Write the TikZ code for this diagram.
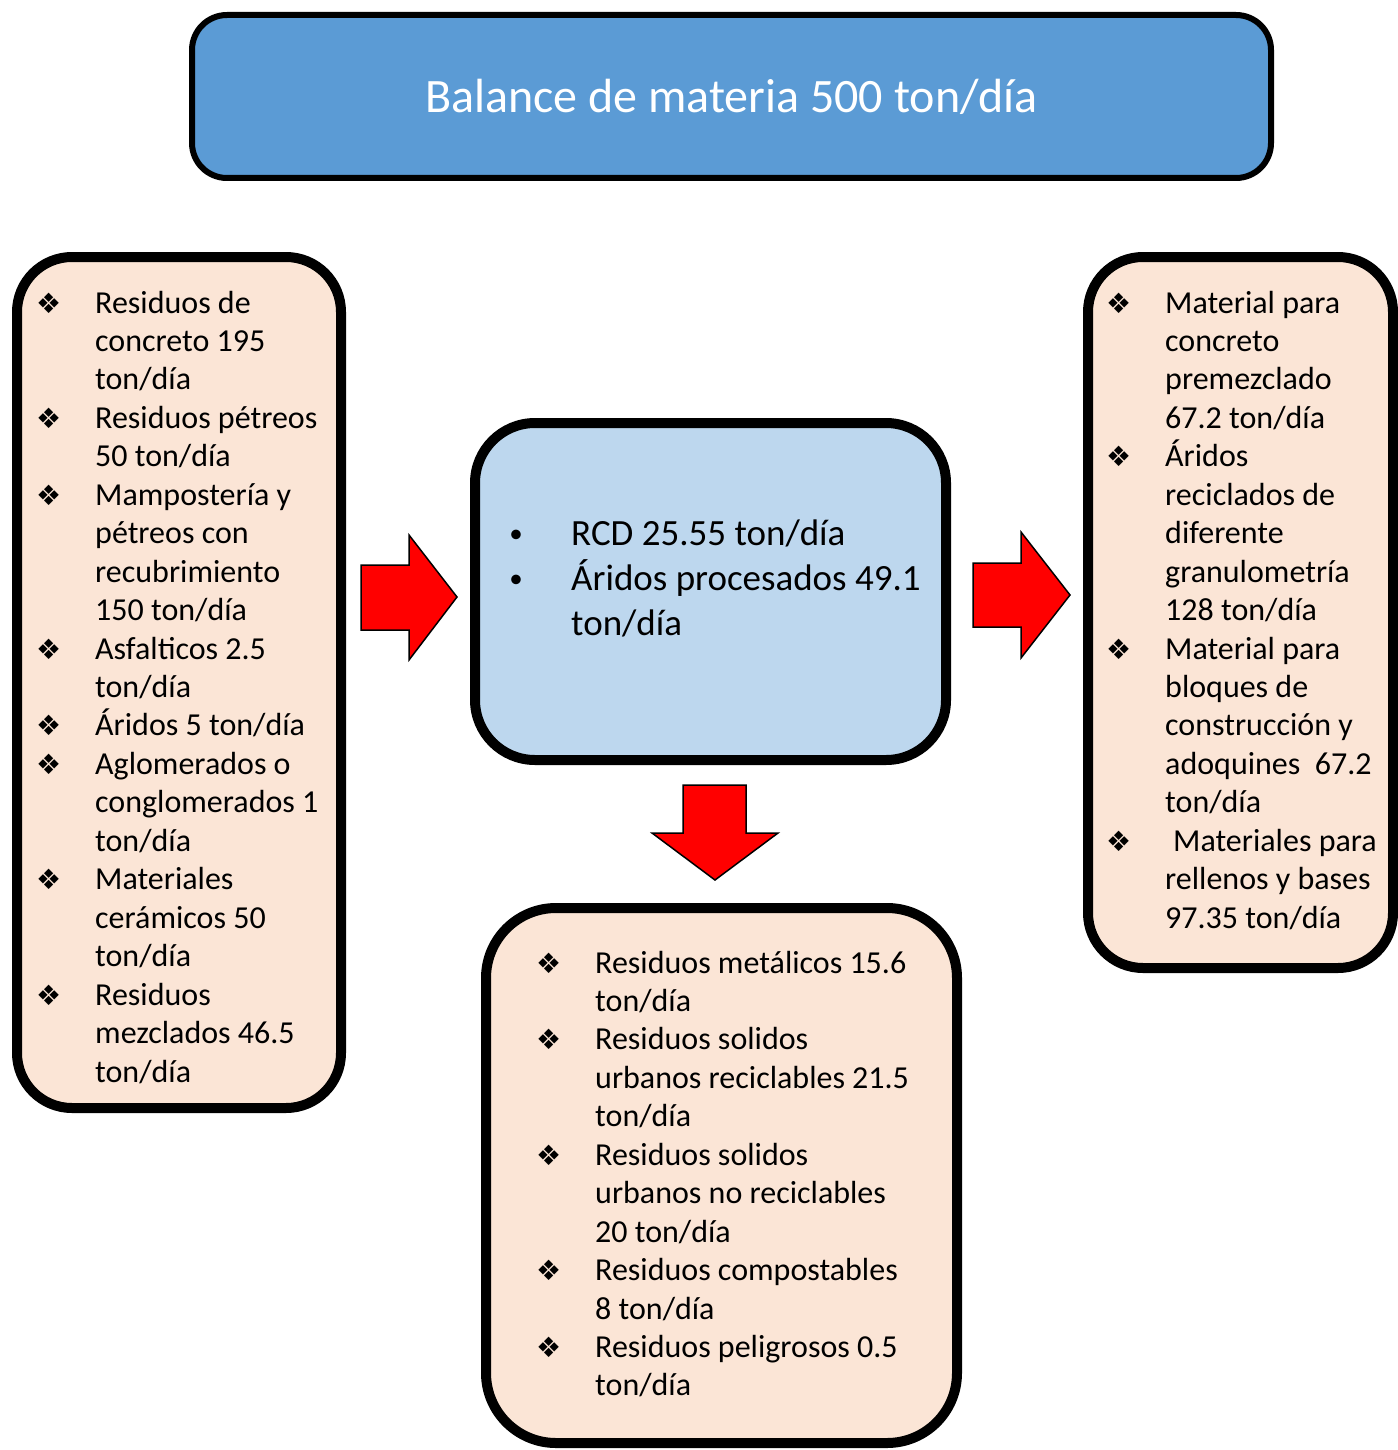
\documentclass[tikz,border=0pt]{standalone}
\usepackage{fontspec}
\setmainfont{Carlito}
\newfontfamily\dingfont{DejaVu Sans}
\usetikzlibrary{positioning}
\definecolor{titleblue}{HTML}{5B9BD5}
\definecolor{peach}{HTML}{FBE5D6}
\definecolor{paleblue}{HTML}{BDD7EE}
\tikzstyle{panel} = [draw=black, line width=10pt, rounded corners=55pt, inner sep=0pt]
\tikzstyle{itemtext} = [anchor=base west, inner sep=0pt, font=\fontsize{32}{38}\selectfont]
\tikzstyle{bigtext} = [anchor=base west, inner sep=0pt, font=\fontsize{37}{45}\selectfont]
\tikzstyle{diamondbullet} = [anchor=base west, inner sep=0pt, font=\dingfont\fontsize{28}{30}\selectfont]
\tikzstyle{blockarrow} = [draw=black, line width=1.5pt, fill=red, line join=miter]

\begin{document}
\begin{tikzpicture}[x=1pt, y=-1pt]
    \useasboundingbox (0,0) rectangle (1397,1450);

    % boxes
    \node (title) [panel, line width=6pt, rounded corners=35pt, fill=titleblue, minimum width=1079pt, minimum height=163pt, text=white, font=\fontsize{48}{56}\selectfont] at (731.5,96.5) {Balance de materia 500 ton/día};
    \node (inputs) [panel, fill=peach, minimum width=324pt, minimum height=851pt] at (179,682.5) {};
    \node (plant) [panel, fill=paleblue, rounded corners=60pt, minimum width=471pt, minimum height=337pt] at (710.5,591.5) {};
    \node (products) [panel, fill=peach, minimum width=305pt, minimum height=711pt] at (1240.5,612.5) {};
    \node (rejects) [panel, fill=peach, rounded corners=70pt, minimum width=471pt, minimum height=535pt] at (721.5,1175.5) {};

    % block arrows
    \draw [blockarrow] (361,565) -- (409,565) -- (409,535) -- (457,597) -- (409,660) -- (409,630) -- (361,630) -- cycle;
    \draw [blockarrow] (973,563) -- (1021,563) -- (1021,532) -- (1070,595) -- (1021,658) -- (1021,627) -- (973,627) -- cycle;
    \draw [blockarrow] (683,785) -- (746,785) -- (746,833) -- (778,833) -- (715,880) -- (652,833) -- (683,833) -- cycle;

    % left list
    \foreach \txt [count=\i from 0] in {Residuos de, concreto 195, ton/día, Residuos pétreos, 50 ton/día, Mampostería y, pétreos con, recubrimiento, 150 ton/día, Asfalticos 2.5, ton/día, Áridos 5 ton/día, Aglomerados o, conglomerados 1, ton/día, Materiales, cerámicos 50, ton/día, Residuos, mezclados 46.5, ton/día}
        \node (in\i) [itemtext] at (95,{313+38.45*\i}) {\txt};
    \foreach \i in {0,3,5,9,11,12,15,18}
        \node (inb\i) [diamondbullet] at (36,{313+38.45*\i}) {❖};

    % centre list
    \foreach \txt [count=\i from 0] in {RCD 25.55 ton/día, Áridos procesados 49.1, ton/día}
        \node (pl\i) [bigtext] at (571,{545+45*\i}) {\txt};
    \foreach \i in {0,1}
        \node (plb\i) [bigtext, anchor=base, font=\fontsize{27}{30}\selectfont] at (516,{542+45*\i}) {•};

    % right list
    \foreach \txt [count=\i from 0] in {Material para, concreto, premezclado, 67.2 ton/día, Áridos, reciclados de, diferente, granulometría, 128 ton/día, Material para, bloques de, construcción y, adoquines\ \ 67.2, ton/día, {\hspace{8pt}Materiales para}, rellenos y bases, 97.35 ton/día}
        \node (out\i) [itemtext] at (1165,{313+38.45*\i}) {\txt};
    \foreach \i in {0,4,9,14}
        \node (outb\i) [diamondbullet] at (1106,{313+38.45*\i}) {❖};

    % bottom list
    \foreach \txt [count=\i from 0] in {Residuos metálicos 15.6, ton/día, Residuos solidos, urbanos reciclables 21.5, ton/día, Residuos solidos, urbanos no reciclables, 20 ton/día, Residuos compostables, 8 ton/día, Residuos peligrosos 0.5, ton/día}
        \node (rj\i) [itemtext] at (595,{973+38.45*\i}) {\txt};
    \foreach \i in {0,2,5,8,10}
        \node (rjb\i) [diamondbullet] at (536,{973+38.45*\i}) {❖};
\end{tikzpicture}
\end{document}
